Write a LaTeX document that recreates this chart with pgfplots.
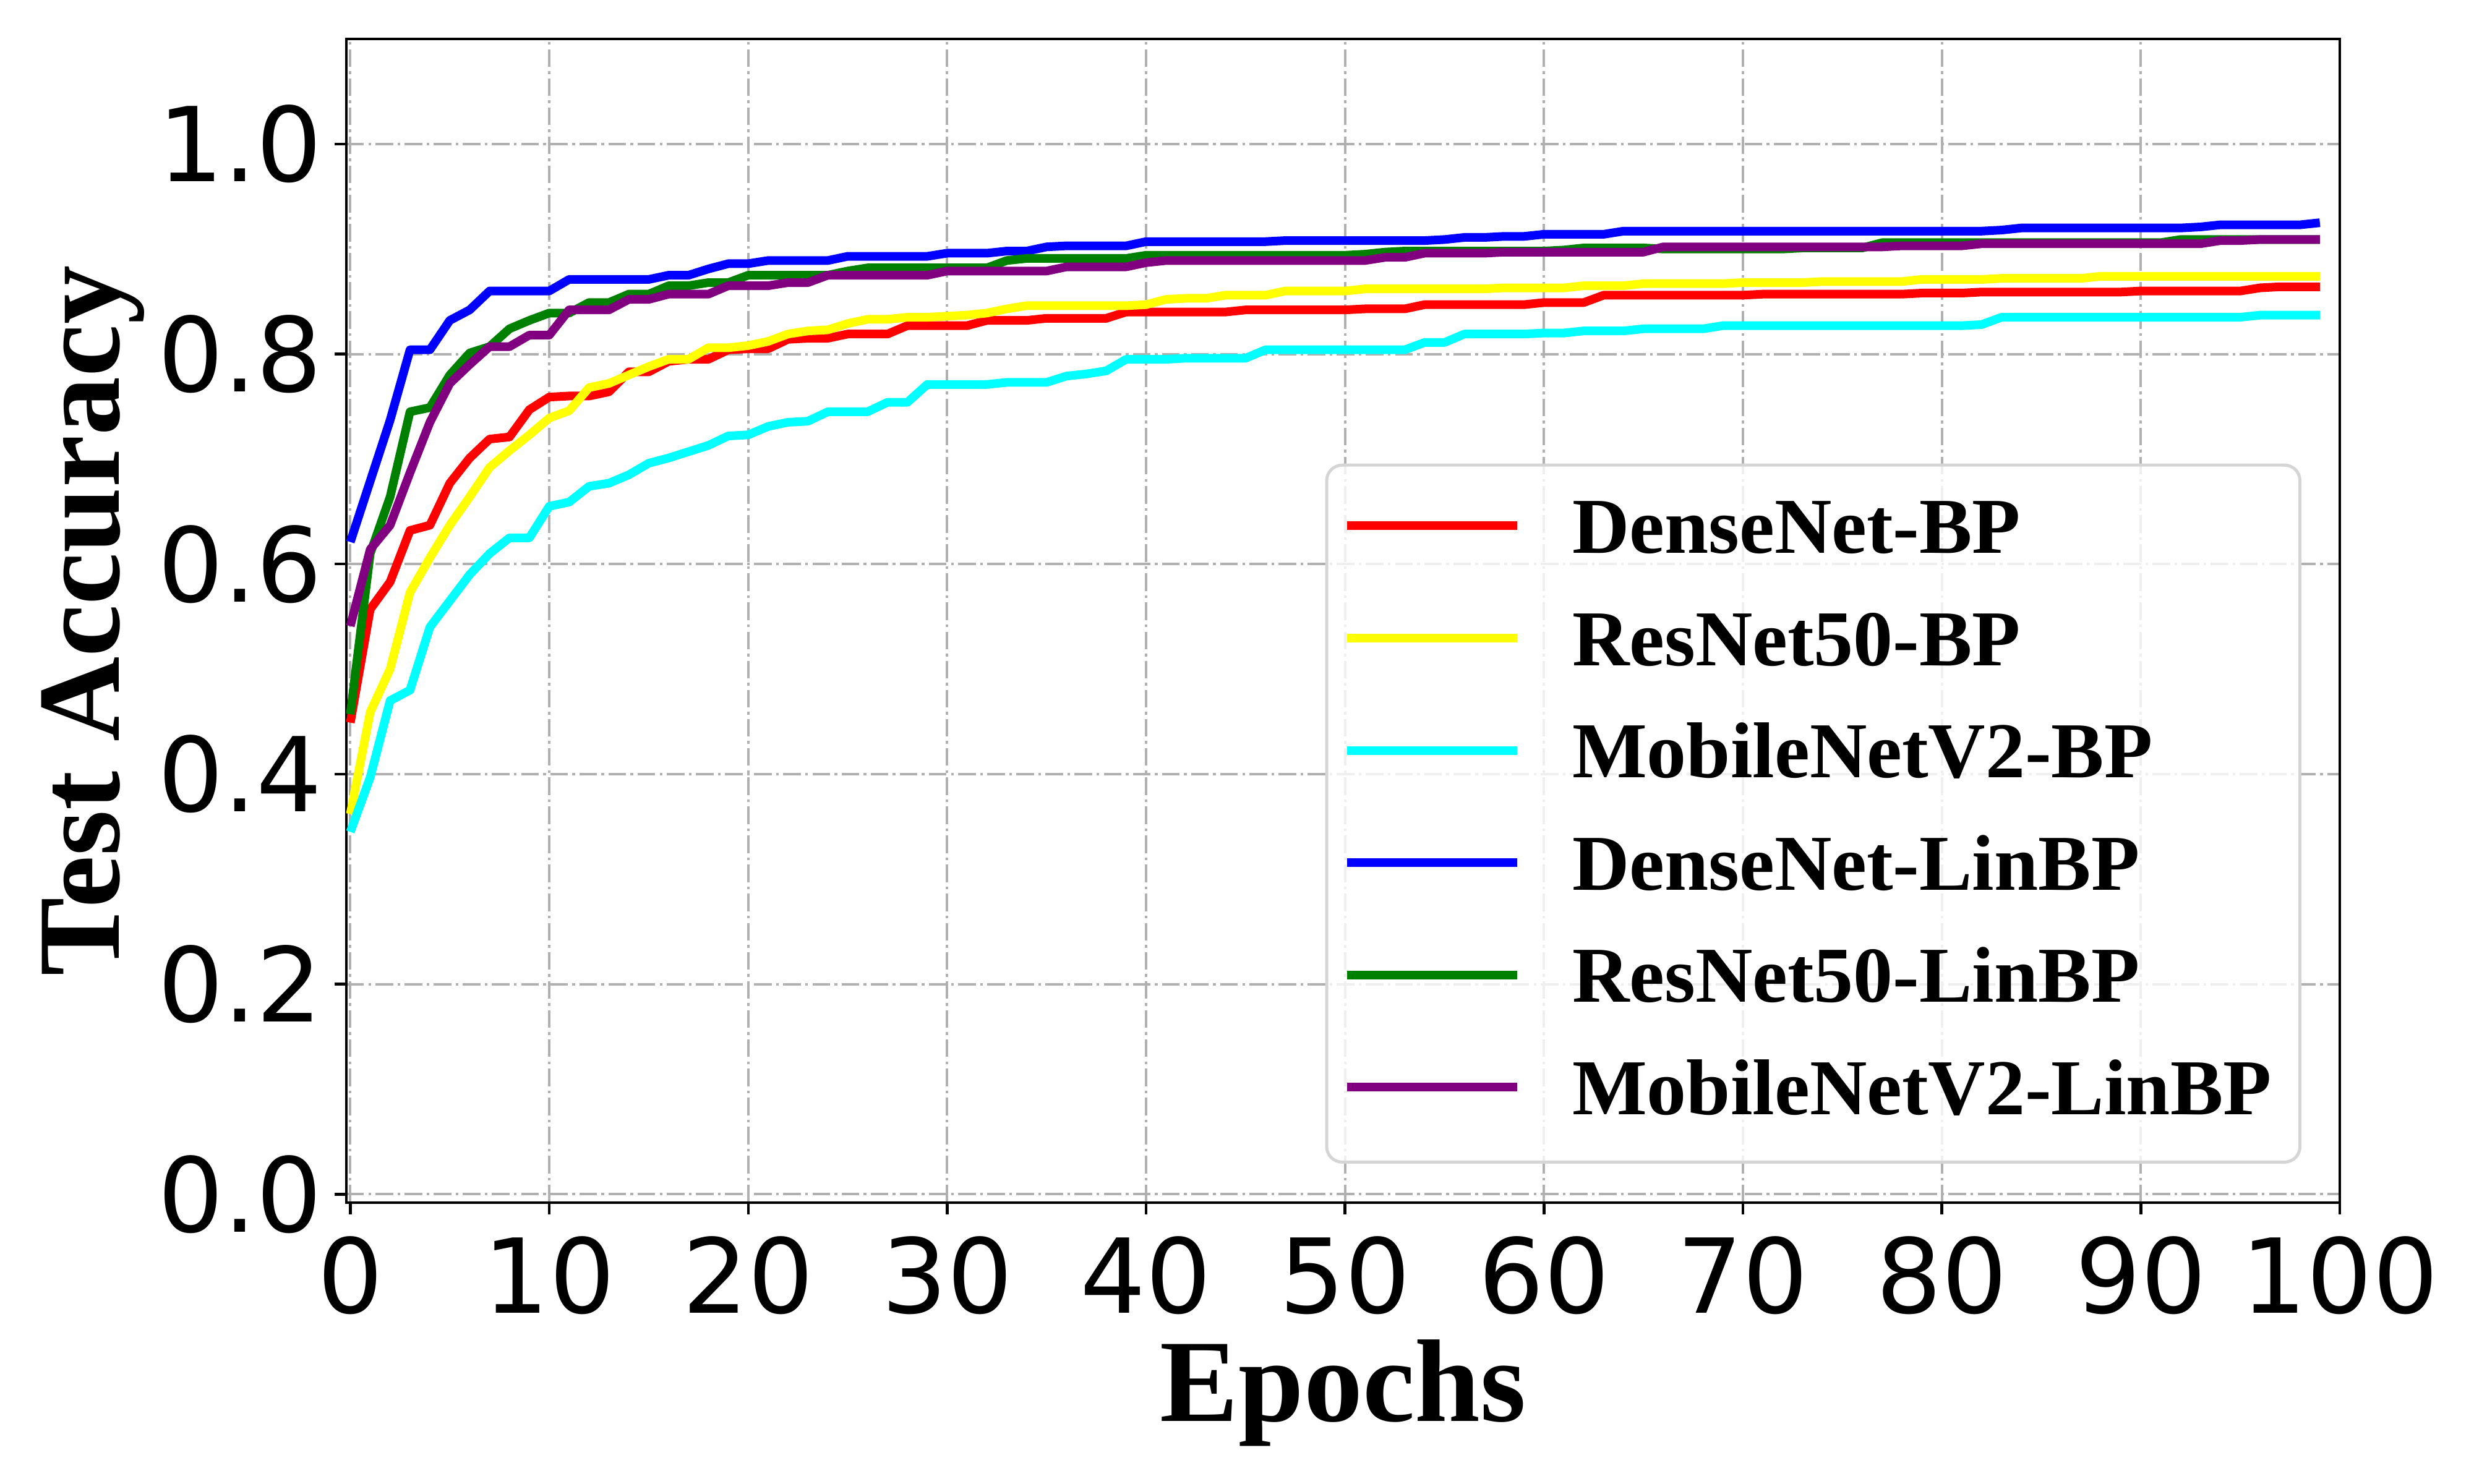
\documentclass[border=0pt]{standalone}
\usepackage{pgfplots}
\pgfplotsset{compat=1.18}
\usepackage{pgfplotstable}
\usepackage{fontspec}
\setmainfont{Liberation Serif}
\newfontfamily\tickfont{DejaVu Sans}
\definecolor{mplred}{RGB}{255,0,0}
\definecolor{mplyellow}{RGB}{255,255,0}
\definecolor{mplcyan}{RGB}{0,255,255}
\definecolor{mplblue}{RGB}{0,0,255}
\definecolor{mplgreen}{RGB}{0,128,0}
\definecolor{mplpurple}{RGB}{128,0,128}
\definecolor{gridgray}{RGB}{176,176,176}
\definecolor{legframe}{RGB}{213,213,213}

\pgfplotstableread{
x r y c b g p
0 0.449 0.362 0.345 0.621 0.457 0.541
1 0.557 0.459 0.397 0.679 0.610 0.614
2 0.583 0.500 0.470 0.737 0.664 0.637
3 0.632 0.573 0.480 0.804 0.745 0.687
4 0.637 0.606 0.540 0.804 0.749 0.735
5 0.677 0.637 0.565 0.832 0.780 0.772
6 0.701 0.664 0.590 0.842 0.801 0.790
7 0.719 0.692 0.610 0.860 0.807 0.807
8 0.721 0.708 0.625 0.860 0.824 0.807
9 0.747 0.723 0.625 0.860 0.832 0.818
10 0.759 0.739 0.655 0.860 0.839 0.818
11 0.760 0.746 0.659 0.871 0.839 0.842
12 0.760 0.768 0.674 0.871 0.849 0.842
13 0.764 0.772 0.677 0.871 0.849 0.842
14 0.783 0.780 0.685 0.871 0.857 0.852
15 0.783 0.788 0.696 0.871 0.857 0.852
16 0.793 0.795 0.701 0.875 0.865 0.857
17 0.795 0.795 0.707 0.875 0.865 0.857
18 0.795 0.806 0.713 0.881 0.868 0.857
19 0.804 0.806 0.722 0.886 0.868 0.865
20 0.805 0.808 0.723 0.886 0.875 0.865
21 0.805 0.812 0.731 0.889 0.875 0.865
22 0.814 0.819 0.735 0.889 0.875 0.868
23 0.815 0.822 0.736 0.889 0.875 0.868
24 0.815 0.823 0.745 0.889 0.875 0.875
25 0.819 0.829 0.745 0.893 0.879 0.875
26 0.819 0.833 0.745 0.893 0.882 0.875
27 0.819 0.833 0.754 0.893 0.882 0.875
28 0.827 0.835 0.754 0.893 0.882 0.875
29 0.827 0.835 0.771 0.893 0.882 0.875
30 0.827 0.836 0.771 0.896 0.882 0.879
31 0.827 0.837 0.771 0.896 0.882 0.879
32 0.832 0.839 0.771 0.896 0.882 0.879
33 0.832 0.843 0.773 0.898 0.889 0.879
34 0.832 0.846 0.773 0.898 0.891 0.879
35 0.834 0.846 0.773 0.902 0.891 0.879
36 0.834 0.846 0.779 0.903 0.891 0.883
37 0.834 0.846 0.781 0.903 0.891 0.883
38 0.834 0.846 0.784 0.903 0.891 0.883
39 0.840 0.846 0.795 0.903 0.891 0.883
40 0.840 0.847 0.795 0.907 0.894 0.887
41 0.840 0.852 0.795 0.907 0.894 0.889
42 0.840 0.853 0.796 0.907 0.894 0.889
43 0.840 0.853 0.796 0.907 0.894 0.889
44 0.840 0.856 0.796 0.907 0.894 0.889
45 0.842 0.856 0.796 0.907 0.894 0.889
46 0.842 0.856 0.804 0.907 0.894 0.889
47 0.842 0.860 0.804 0.908 0.894 0.889
48 0.842 0.860 0.804 0.908 0.894 0.889
49 0.842 0.860 0.804 0.908 0.894 0.889
50 0.842 0.860 0.804 0.908 0.894 0.889
51 0.843 0.862 0.804 0.908 0.895 0.889
52 0.843 0.862 0.804 0.908 0.897 0.892
53 0.843 0.862 0.804 0.908 0.898 0.892
54 0.847 0.862 0.811 0.908 0.898 0.896
55 0.847 0.862 0.811 0.909 0.898 0.896
56 0.847 0.862 0.819 0.911 0.898 0.896
57 0.847 0.862 0.819 0.911 0.898 0.896
58 0.847 0.863 0.819 0.912 0.898 0.897
59 0.847 0.863 0.819 0.912 0.898 0.897
60 0.849 0.863 0.820 0.914 0.898 0.897
61 0.849 0.863 0.820 0.914 0.899 0.897
62 0.849 0.865 0.822 0.914 0.901 0.897
63 0.856 0.865 0.822 0.914 0.901 0.897
64 0.856 0.865 0.822 0.917 0.901 0.897
65 0.856 0.867 0.824 0.917 0.901 0.897
66 0.856 0.867 0.824 0.917 0.900 0.902
67 0.856 0.867 0.824 0.917 0.900 0.902
68 0.856 0.867 0.824 0.917 0.900 0.902
69 0.856 0.867 0.827 0.917 0.900 0.902
70 0.856 0.868 0.827 0.917 0.900 0.902
71 0.857 0.868 0.827 0.917 0.900 0.902
72 0.857 0.868 0.827 0.917 0.900 0.902
73 0.857 0.868 0.827 0.917 0.901 0.902
74 0.857 0.869 0.827 0.917 0.901 0.902
75 0.857 0.869 0.827 0.917 0.901 0.902
76 0.857 0.869 0.827 0.917 0.901 0.902
77 0.857 0.869 0.827 0.917 0.906 0.902
78 0.857 0.869 0.827 0.917 0.906 0.903
79 0.858 0.871 0.827 0.917 0.906 0.903
80 0.858 0.871 0.827 0.917 0.906 0.903
81 0.858 0.871 0.827 0.917 0.906 0.903
82 0.859 0.871 0.828 0.917 0.906 0.905
83 0.859 0.872 0.835 0.918 0.906 0.905
84 0.859 0.872 0.835 0.920 0.906 0.905
85 0.859 0.872 0.835 0.920 0.906 0.905
86 0.859 0.872 0.835 0.920 0.906 0.905
87 0.859 0.872 0.835 0.920 0.906 0.905
88 0.859 0.874 0.835 0.920 0.906 0.905
89 0.859 0.874 0.835 0.920 0.906 0.905
90 0.860 0.874 0.835 0.920 0.906 0.905
91 0.860 0.874 0.835 0.920 0.906 0.905
92 0.860 0.874 0.835 0.920 0.909 0.905
93 0.860 0.874 0.835 0.921 0.909 0.905
94 0.860 0.874 0.835 0.923 0.909 0.908
95 0.860 0.874 0.835 0.923 0.909 0.908
96 0.863 0.874 0.837 0.923 0.909 0.909
97 0.864 0.874 0.837 0.923 0.909 0.909
98 0.864 0.874 0.837 0.923 0.909 0.909
99 0.864 0.874 0.837 0.925 0.909 0.909
}\acc

\begin{document}
\begin{tikzpicture}
\begin{axis}[
  name=ax,
  at={(0,0)}, anchor=south west,
  scale only axis,
  width=322.3pt, height=188.2pt,
  xmin=-0.2, xmax=100,
  ymin=-0.008, ymax=1.1,
  xtick={0,10,...,100},
  ytick={0,0.2,0.4,0.6,0.8,1.0},
  yticklabel style={/pgf/number format/.cd, fixed, fixed zerofill, precision=1, /tikz/.cd, xshift=1.5pt},
  /pgf/number format/assume math mode=true,
  tick label style={font=\tickfont\fontsize{16.7}{20}\selectfont},
  tick align=outside,
  tick pos=left,
  major tick length=1.9pt,
  tick style={black, line width=0.44pt},
  axis line style={black, line width=0.45pt},
  grid=major,
  major grid style={gridgray, line width=0.4pt, dash pattern=on 2.85pt off 0.71pt on 0.44pt off 0.71pt},
  xlabel={Epochs},
  ylabel={Test Accuracy},
  label style={font=\fontsize{19}{22}\selectfont\bfseries},
  xlabel style={at={(axis description cs:0.5,-0.1876)}, anchor=base},
  ylabel style={at={(axis description cs:-0.1139,0.5)}, anchor=base},
  legend image code/.code={\draw[#1, line width=1.4pt] (0pt,4.4pt) -- (27.5pt,4.4pt); \path (0pt,-5.0pt) (33.7pt,11.52pt);},
  legend style={
    at={(0.9808,0.0335)}, anchor=south east,
    draw=legframe, line width=0.5pt, rounded corners=2.5pt,
    fill=white, fill opacity=0.8, draw opacity=1, text opacity=1,
    inner xsep=2.6pt, inner ysep=2pt,
    row sep=0.24pt, column sep=0pt,
    font=\fontsize{12.8}{14}\selectfont\bfseries,
    cells={anchor=base west, inner sep=0pt, text opacity=1},
  },
  every axis plot/.append style={line width=1.4pt, line join=round},
]
\addplot[mplred] table[x=x, y=r] {\acc};
\addlegendentry{\smash{DenseNet-BP}}
\addplot[mplyellow] table[x=x, y=y] {\acc};
\addlegendentry{\smash{ResNet50-BP}}
\addplot[mplcyan] table[x=x, y=c] {\acc};
\addlegendentry{\smash{MobileNetV2-BP}}
\addplot[mplblue] table[x=x, y=b] {\acc};
\addlegendentry{\smash{DenseNet-LinBP}}
\addplot[mplgreen] table[x=x, y=g] {\acc};
\addlegendentry{\smash{ResNet50-LinBP}}
\addplot[mplpurple] table[x=x, y=p] {\acc};
\addlegendentry{\smash{MobileNetV2-LinBP}}
\end{axis}
\pgfresetboundingbox
\path[use as bounding box] (ax.south west) ++(-56pt,-45.5pt) rectangle ++(400pt,240pt);
\end{tikzpicture}
\end{document}
